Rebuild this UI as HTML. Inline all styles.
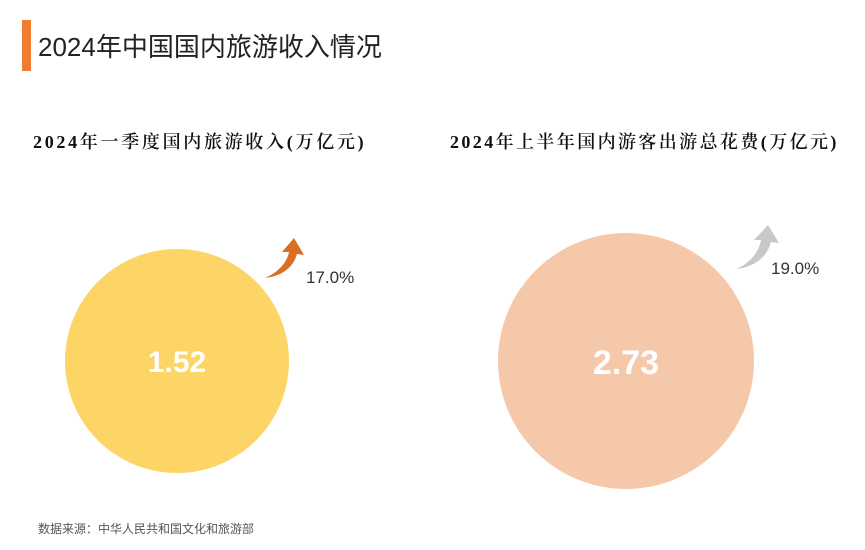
<!DOCTYPE html>
<html><head><meta charset="utf-8"><style>
body{margin:0;background:#fff;width:865px;height:550px;overflow:hidden;position:relative;font-family:"Liberation Sans","Noto Sans CJK SC",sans-serif}
.t{position:absolute;white-space:nowrap}
</style></head><body>
<div style="position:absolute;left:22px;top:20px;width:9px;height:51px;background:#ee7d31"></div>
<div class="t" style="left:38px;top:27px;font-size:26px;color:#222">2024年中国国内旅游收入情况</div>
<div class="t" style="left:33px;top:128px;font-size:18px;color:#111;font-family:'Liberation Serif','Noto Serif CJK SC',serif;letter-spacing:2.7px;font-weight:600">2024年一季度国内旅游收入(万亿元)</div>
<div class="t" style="left:450px;top:128px;font-size:18px;color:#111;font-family:'Liberation Serif','Noto Serif CJK SC',serif;letter-spacing:2.4px;font-weight:600">2024年上半年国内游客出游总花费(万亿元)</div>
<svg style="position:absolute;left:0;top:0" width="865" height="550">
<circle cx="177" cy="361" r="112" fill="#fdd567"/>
<circle cx="626" cy="361" r="128" fill="#f6c8aa"/>
<path d="M265,278 C279,272 287,262 289,252 L282,252 L294,238 L304,255 L297,254 C293,268 282,276 265,278Z" fill="#d86f24"/>
<path d="M736,269 C751,263 759,251 761,240 L754,240 L768,225 L779,243 L771,242 C767,257 755,267 736,269Z" fill="#c8c8c8"/>
<text x="177" y="372" text-anchor="middle" font-size="30" font-weight="bold" fill="#fff" font-family="Liberation Sans">1.52</text>
<text x="626" y="374" text-anchor="middle" font-size="34" font-weight="bold" fill="#fff" font-family="Liberation Sans">2.73</text>
<text x="306" y="283" font-size="17" fill="#333" font-family="Liberation Sans">17.0%</text>
<text x="771" y="274" font-size="17" fill="#333" font-family="Liberation Sans">19.0%</text>
</svg>
<div class="t" style="left:38px;top:520px;font-size:12px;color:#555">数据来源：中华人民共和国文化和旅游部</div>
</body></html>
